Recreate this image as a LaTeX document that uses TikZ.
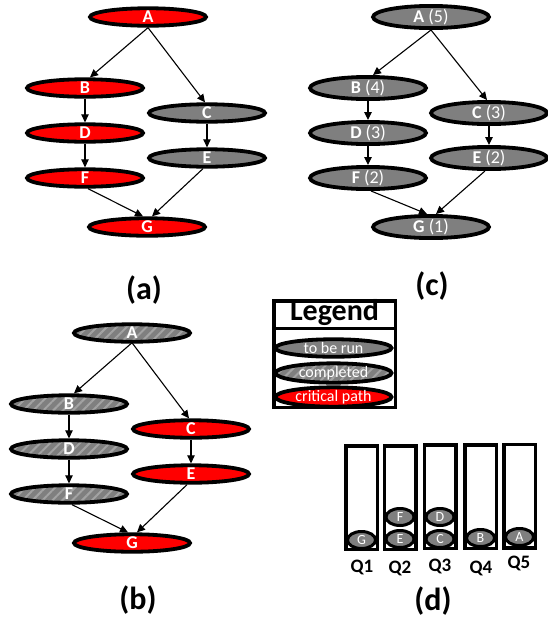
\documentclass[tikz,border=0pt]{standalone}
\usepackage{fontspec}
\setmainfont{Carlito}
\usetikzlibrary{shapes.geometric,arrows.meta,patterns.meta,calc}

\definecolor{runGray}{HTML}{7F7F7F}
\definecolor{critRed}{HTML}{FF0000}
\definecolor{stripeGray}{HTML}{A3A3A3}

\begin{document}
\begin{tikzpicture}[x=1pt,y=-1pt,
  task/.style={ellipse, draw=black, line width=3.8pt, minimum width=116pt,
    minimum height=17.5pt, inner sep=0pt, text=white,
    font=\fontsize{18}{18}\selectfont\bfseries},
  torun/.style={task, fill=runGray},
  crit/.style={task, fill=critRed},
  done/.style={task, preaction={fill=runGray},
    pattern={Lines[angle=45,distance=7pt,line width=2pt]}, pattern color=stripeGray},
  link/.style={-{Triangle[length=8pt,width=7.5pt]}, line width=1.1pt},
  panel/.style={font=\fontsize{32}{32}\selectfont\bfseries},
  legitem/.style={font=\fontsize{16}{16}\selectfont\mdseries},
  queue/.style={rectangle, draw=black, line width=3.5pt, fill=white,
    minimum width=31.5pt, minimum height=103.5pt, inner sep=0pt},
  slot/.style={ellipse, draw=black, line width=3pt, fill=runGray,
    minimum width=28pt, minimum height=17pt, inner sep=0pt, text=white,
    font=\fontsize{14}{14}\selectfont},
  qlabel/.style={font=\fontsize{19}{19}\selectfont\bfseries}]
\useasboundingbox (0,0) rectangle (547,622);

% ---------- (a) critical path in the task graph ----------
\node[crit]  (aA) at (148,17)  {A};
\node[crit]  (aB) at (85,88)   {B};
\node[torun] (aC) at (207,113) {C};
\node[crit]  (aD) at (85,133)  {D};
\node[torun] (aE) at (207,158) {E};
\node[crit]  (aF) at (85,178)  {F};
\node[crit]  (aG) at (147,227) {G};
\draw[link] (aA.south) -- ($(aB.north)+(5,0)$);
\draw[link] (aA.south) -- ($(aC.north)+(-2,0)$);
\draw[link] (aB.south) -- (aD.north);
\draw[link] (aD.south) -- (aF.north);
\draw[link] (aC.south) -- (aE.north);
\draw[link] ($(aF.south)+(3,0)$) -- ($(aG.north)+(-4,0)$);
\draw[link] ($(aE.south)+(-4,0)$) -- ($(aG.north)+(5,0)$);
\node[panel] (la) at (144,290) {(a)};

% ---------- (c) priorities ----------
\begin{scope}[shift={(283,0)}]
\node[torun] (cA) at (148,17)  {A \mdseries(5)};
\node[torun] (cB) at (85,88)   {B \mdseries(4)};
\node[torun] (cC) at (206,113) {C \mdseries(3)};
\node[torun] (cD) at (85,133)  {D \mdseries(3)};
\node[torun] (cE) at (206,158) {E \mdseries(2)};
\node[torun] (cF) at (85,178)  {F \mdseries(2)};
\node[torun] (cG) at (148,227) {G \mdseries(1)};
\draw[link] (cA.south) -- ($(cB.north)+(5,0)$);
\draw[link] (cA.south) -- ($(cC.north)+(-2,0)$);
\draw[link] (cB.south) -- (cD.north);
\draw[link] (cD.south) -- (cF.north);
\draw[link] (cC.south) -- (cE.north);
\draw[link] ($(cF.south)+(3,0)$) -- ($(cG.north)+(-4,0)$);
\draw[link] ($(cE.south)+(-4,0)$) -- ($(cG.north)+(5,0)$);
\end{scope}
\node[panel] (lc) at (432,286) {(c)};

% ---------- (b) after completing part of the graph ----------
\begin{scope}[shift={(-16,316)}]
\node[done] (bA) at (148,17)  {A};
\node[done] (bB) at (85,88)   {B};
\node[crit] (bC) at (207,113) {C};
\node[done] (bD) at (85,133)  {D};
\node[crit] (bE) at (207,158) {E};
\node[done] (bF) at (85,178)  {F};
\node[crit] (bG) at (148,227) {G};
\draw[link] (bA.south) -- ($(bB.north)+(5,0)$);
\draw[link] (bA.south) -- ($(bC.north)+(-2,0)$);
\draw[link] (bB.south) -- (bD.north);
\draw[link] (bD.south) -- (bF.north);
\draw[link] (bC.south) -- (bE.north);
\draw[link] ($(bF.south)+(3,0)$) -- ($(bG.north)+(-4,0)$);
\draw[link] ($(bE.south)+(-4,0)$) -- ($(bG.north)+(5,0)$);
\end{scope}
\node[panel] (lb) at (138,600) {(b)};

% ---------- legend ----------
\node[rectangle, draw=black, line width=3.5pt, minimum width=121.5pt,
  minimum height=106.5pt, inner sep=0pt] (legbox) at (334.5,354) {};
\draw[line width=3pt] (legbox.west |- 0,328) coordinate (sepL)
  -- (legbox.east |- 0,328) coordinate (sepR);
\node[font=\fontsize{30}{30}\selectfont\bfseries] (legtitle) at (334.5,313) {Legend};
\node[torun, legitem] (legRun)  at (333.5,348) {to be run};
\node[done, legitem]  (legDone) at (333.5,373) {completed};
\node[crit, legitem]  (legCrit) at (333.5,397) {critical path};

% ---------- (d) queues ----------
\node[queue] (q1) at (361.5,497.5) {};
\node[queue] (q2) at (400,497.5)   {};
\node[queue] (q3) at (440,496.5)   {};
\node[queue] (q4) at (480.5,496.5) {};
\node[queue] (q5) at (519.5,496)   {};
\node[slot] (sG) at (361.5,540) {G};
\node[slot] (sE) at (400,539)   {E};
\node[slot] (sF) at (400,517)   {F};
\node[slot] (sC) at (440,539)   {C};
\node[slot] (sD) at (440,517)   {D};
\node[slot] (sB) at (480.5,538) {B};
\node[slot] (sA) at (519.5,537) {A};
\node[qlabel] (lq1) at (362,567) {Q1};
\node[qlabel] (lq2) at (400,568) {Q2};
\node[qlabel] (lq3) at (440,566) {Q3};
\node[qlabel] (lq4) at (481,568) {Q4};
\node[qlabel] (lq5) at (519,563) {Q5};
\node[panel] (ld) at (433,601) {(d)};
\end{tikzpicture}
\end{document}
